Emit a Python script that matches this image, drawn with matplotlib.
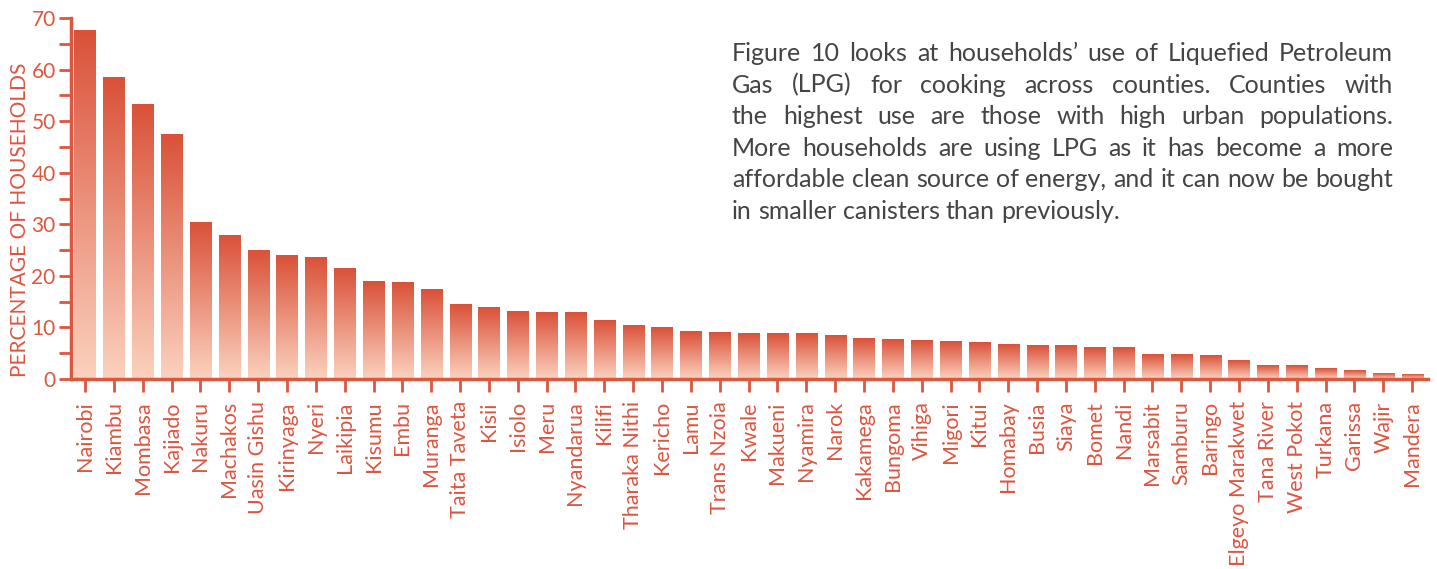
import numpy as np
import matplotlib.pyplot as plt
from matplotlib.colors import LinearSegmentedColormap
from matplotlib.ticker import MultipleLocator

# Datos: uso de GLP para cocinar por condado (% de hogares)
condados = ["Nairobi", "Kiambu", "Mombasa", "Kajiado", "Nakuru", "Machakos",
            "Uasin Gishu", "Kirinyaga", "Nyeri", "Laikipia", "Kisumu", "Embu",
            "Muranga", "Taita Taveta", "Kisii", "Isiolo", "Meru", "Nyandarua",
            "Kilifi", "Tharaka Nithi", "Kericho", "Lamu", "Trans Nzoia", "Kwale",
            "Makueni", "Nyamira", "Narok", "Kakamega", "Bungoma", "Vihiga",
            "Migori", "Kitui", "Homabay", "Busia", "Siaya", "Bomet", "Nandi",
            "Marsabit", "Samburu", "Baringo", "Elgeyo Marakwet", "Tana River",
            "West Pokot", "Turkana", "Garissa", "Wajir", "Mandera"]
porcentaje = [67.5, 58.4, 53.3, 47.5, 30.3, 27.9,
              25.0, 24.0, 23.5, 21.5, 19.0, 18.8,
              17.3, 14.5, 13.8, 13.0, 12.8, 12.8,
              11.4, 10.3, 9.9, 9.3, 9.1, 8.9,
              8.9, 8.9, 8.5, 7.8, 7.6, 7.4,
              7.2, 7.0, 6.6, 6.4, 6.4, 6.2, 6.2,
              4.8, 4.8, 4.5, 3.5, 2.7,
              2.7, 2.1, 1.7, 1.0, 0.8]

lineas = ["Figure 10 looks at households\u2019 use of Liquefied Petroleum",
          "Gas (LPG) for cooking across counties. Counties with",
          "the highest use are those with high urban populations.",
          "More households are using LPG as it has become a more",
          "affordable clean source of energy, and it can now be bought",
          "in smaller canisters than previously."]

rojo = '#dc5640'
plt.rcParams['font.family'] = ['Lato', 'DejaVu Sans']

W, H = 1437, 569
fig = plt.figure(figsize=(W / 100, H / 100), dpi=100)
ax = fig.add_axes([71 / W, (H - 379) / H, (1428 - 71) / W, (379 - 18) / H])

x = np.arange(len(condados))
barras = ax.bar(x, porcentaje, width=0.73, color='none', edgecolor='none')

# degradado vertical dentro de cada barra
degradado = LinearSegmentedColormap.from_list('lpg', ['#fbd2be', '#da5139'])
grad = np.linspace(0, 1, 256).reshape(-1, 1)
for b in barras:
    x0, y0 = b.get_x(), b.get_y()
    ax.imshow(grad, cmap=degradado, origin='lower', aspect='auto',
              extent=[x0, x0 + b.get_width(), y0, y0 + b.get_height()], zorder=2)

ax.set_xlim(-0.485, 46.55)
ax.set_ylim(0, 70)
ax.set_xticks(x)
ax.set_xticklabels(condados, rotation=90, fontsize=15.5, color=rojo)
ax.yaxis.set_major_locator(MultipleLocator(10))
ax.yaxis.set_minor_locator(MultipleLocator(5))
ax.tick_params(axis='y', which='both', length=9, width=2, color=rojo, pad=2,
               labelsize=15, labelcolor=rojo)
ax.tick_params(axis='x', length=9, width=2, color=rojo, pad=7)
for lado in ['top', 'right']:
    ax.spines[lado].set_visible(False)
for lado in ['left', 'bottom']:
    ax.spines[lado].set_color(rojo)
    ax.spines[lado].set_linewidth(2.5)

fig.text(10 / W, 1 - 377 / H, "PERCENTAGE OF HOUSEHOLDS", rotation=90,
         ha='left', va='bottom', fontsize=15, color=rojo)

# texto justificado
renderer = fig.canvas.get_renderer()
izq, der = 732, 1393
tam = 18
for i, linea in enumerate(lineas):
    palabras = linea.split()
    yb = 1 - (61 + i * 31.6) / H
    objs = [fig.text(0, yb, p, fontsize=tam, color='#444444',
                     va='baseline', ha='left') for p in palabras]
    anchos = [o.get_window_extent(renderer).width for o in objs]
    if i == len(lineas) - 1:
        t1 = fig.text(0, 0, "a a", fontsize=tam)
        t2 = fig.text(0, 0, "aa", fontsize=tam)
        hueco = t1.get_window_extent(renderer).width - t2.get_window_extent(renderer).width
        t1.remove()
        t2.remove()
    else:
        hueco = (der - izq - sum(anchos)) / (len(palabras) - 1)
    pos = izq
    for o, w in zip(objs, anchos):
        o.set_x(pos / W)
        pos += w + hueco

fig.savefig("out.png", dpi=100)
